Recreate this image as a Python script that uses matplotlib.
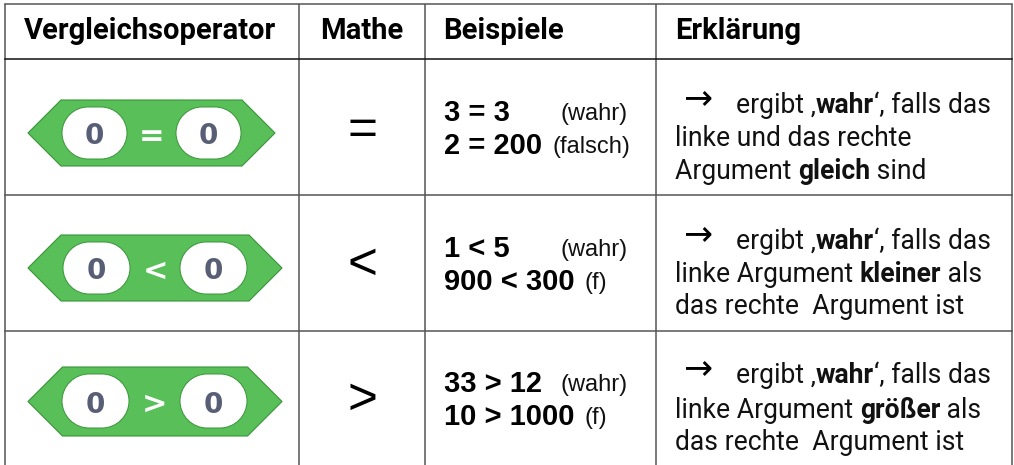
import matplotlib
matplotlib.use("Agg")
from matplotlib import pyplot as plt
from matplotlib.patches import Polygon, PathPatch
from matplotlib.path import Path

W, H = 1014, 465

headers = ["Vergleichsoperator", "Mathe", "Beispiele", "Erklärung"]
header_x = [24, 320, 443, 675]
math_signs = ["=", "<", ">"]
block_ops = ["=", "<", ">"]

# block geometry: left tip, right tip, top, bottom, pill1 left/right, pill2 left/right, pill top/bottom
blocks = [
    (28, 275, 100, 166, 62, 127, 176, 241, 107, 159),
    (28, 282, 235, 301, 63, 130, 180, 247, 242, 294),
    (28, 282, 367, 436, 62, 129, 180, 247, 374, 428),
]
sign_y = [131, 265, 400]

ex_left = [["3 = 3", "2 = 200"], ["1 < 5", "900 < 300"], ["33 > 12", "10 > 1000"]]
ex_right = [["(wahr)", "(falsch)"], ["(wahr)", "(f)"], ["(wahr)", "(f)"]]
ex_right_x = [[561, 552], [561, 584], [561, 584]]
ex_y = [[113, 146], [249, 282], [384, 417]]

# explanation lines as (text, bold) runs
expl = [
    [[("ergibt ‚", 0), ("wahr", 1), ("‘, falls das", 0)],
     [("linke und das rechte", 0)],
     [("Argument ", 0), ("gleich", 1), (" sind", 0)]],
    [[("ergibt ‚", 0), ("wahr", 1), ("‘, falls das", 0)],
     [("linke Argument ", 0), ("kleiner", 1), (" als", 0)],
     [("das rechte  Argument ist", 0)]],
    [[("ergibt ‚", 0), ("wahr", 1), ("‘, falls das", 0)],
     [("linke Argument ", 0), ("größer", 1), (" als", 0)],
     [("das rechte  Argument ist", 0)]],
]
expl_y = [[105, 138, 171], [241, 274, 306], [375, 410, 442]]

v_lines = [5, 299, 425, 656, 1012]
h_lines = [4, 59, 195, 331]

GREEN = "#59C059"
EDGE = "#389438"
NUM = "#575E75"


def pill(l, r, t, b):
    # rounded box with circular corners, a bit of flat top and bottom
    rad = (b - t) / 2
    k = rad * 0.55
    verts = [(l + rad, t), (r - rad, t),
             (r - rad + k, t), (r, t + rad - k), (r, t + rad),
             (r, b - rad + k), (r - rad + k, b), (r - rad, b),
             (l + rad, b),
             (l + rad - k, b), (l, b - rad + k), (l, b - rad),
             (l, t + rad - k), (l + rad - k, t), (l + rad, t)]
    codes = [Path.MOVETO, Path.LINETO] + [Path.CURVE4] * 3 + [Path.CURVE4] * 3 + [Path.LINETO] + [Path.CURVE4] * 6
    return Path(verts, codes)


fig = plt.figure(figsize=(W / 100, H / 100), dpi=100)
ax = fig.add_axes([0, 0, 1, 1])
ax.set_xlim(0, W)
ax.set_ylim(H, 0)
ax.axis("off")

for x in v_lines:
    ax.plot([x, x], [4, H], color="#6e6e6e", lw=1.3, solid_capstyle="butt")
for i, y in enumerate(h_lines):
    ax.plot([5, 1012], [y, y], color="#111111" if i == 1 else "#555555", lw=1.1)

for x, t in zip(header_x, headers):
    ax.text(x, 31, t, family="Roboto", weight="bold", fontsize=21, va="center", ha="left", color="black")

for i, b in enumerate(blocks):
    lt, rt, top, bot, p1l, p1r, p2l, p2r, pt, pb = b
    mid = (top + bot) / 2
    sl = lt + (bot - top) / 2
    sr = rt - (bot - top) / 2
    ax.add_patch(Polygon([(lt, mid), (sl, top), (sr, top), (rt, mid), (sr, bot), (sl, bot)],
                         closed=True, fc=GREEN, ec=EDGE, lw=0.8))
    for l, r in [(p1l, p1r), (p2l, p2r)]:
        ax.add_patch(PathPatch(pill(l, r, pt, pb), fc="white", ec=EDGE, lw=0.7))
        ax.text((l + r) / 2, mid, "0", family="DejaVu Sans", weight="bold", fontsize=20,
                color=NUM, ha="center", va="center_baseline")
    ax.text((p1r + p2l) / 2, mid, block_ops[i], family="DejaVu Sans", weight="bold", fontsize=22,
            color="white", ha="center", va="center_baseline")
    ax.text(362, sign_y[i], math_signs[i], family="Liberation Sans", fontsize=37,
            color="black", ha="center", va="center")
    for j in range(2):
        ax.text(444, ex_y[i][j], ex_left[i][j], family="Liberation Sans", weight="bold", fontsize=21,
                va="center", ha="left", color="black")
        ax.text(ex_right_x[i][j], ex_y[i][j] + 1, ex_right[i][j], family="Liberation Sans", fontsize=17,
                va="center", ha="left", color="#111111")
    ax.text(683, expl_y[i][0] - 7, "→", family="DejaVu Sans", fontsize=25, va="center", ha="left", color="black")

fig.canvas.draw()
rend = fig.canvas.get_renderer()
for i, rows in enumerate(expl):
    for j, runs in enumerate(rows):
        x = 736 if j == 0 else 675
        for t, bold in runs:
            txt = ax.text(x, expl_y[i][j] + 8, t, family="Roboto", weight="bold" if bold else "normal",
                          fontsize=19.1, va="baseline", ha="left", color="#111111")
            # advance by measured width, spaces included
            w, _, _ = rend.get_text_width_height_descent(t.replace(" ", "\u00a0"), txt.get_fontproperties(), False)
            x += w

fig.savefig("out.png", dpi=100)
